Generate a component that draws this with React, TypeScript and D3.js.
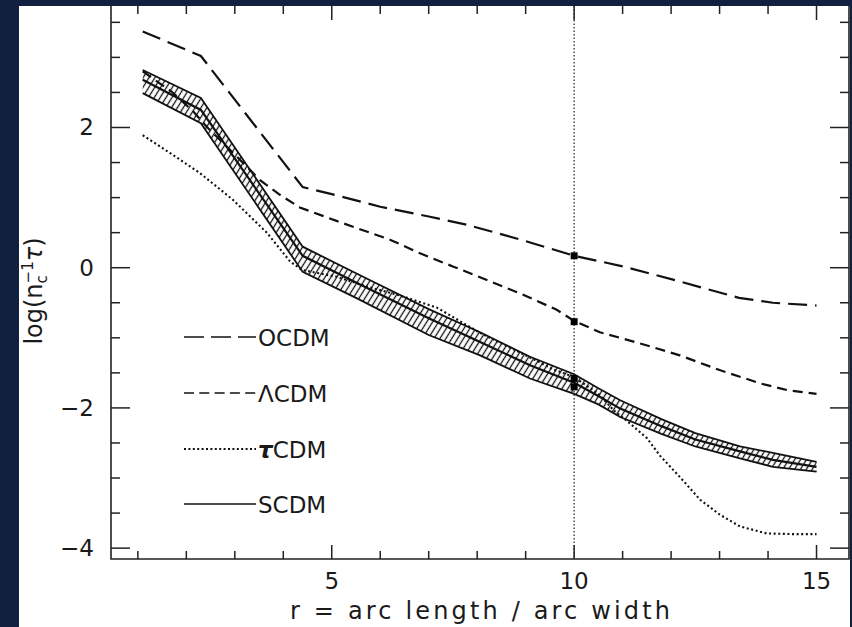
import React from "react";
import * as d3 from "d3";

const W = 852;
const H = 627;

// OCDM (long dash)
const ocdmR = [1.1, 2.3, 4.4, 5.0, 6.0, 7.0, 7.8, 8.9, 10.0, 11.0, 12.2, 13.4, 14.1, 15.0];
const ocdmY = [3.37, 3.02, 1.15, 1.05, 0.87, 0.73, 0.61, 0.40, 0.17, 0.02, -0.20, -0.43, -0.50, -0.54];

// ΛCDM (short dash)
const lcdmR = [1.1, 1.7, 2.14, 2.42, 2.83, 3.25, 3.52, 3.93, 4.34, 5.17, 6.2, 6.82, 7.51, 8.2, 8.88, 9.64, 10.0, 10.53, 11.36, 12.18, 13.0, 13.84, 14.39, 15.0];
const lcdmY = [2.80, 2.51, 2.23, 2.01, 1.73, 1.44, 1.25, 1.04, 0.86, 0.65, 0.40, 0.205, 0.015, -0.175, -0.365, -0.60, -0.76, -0.92, -1.08, -1.25, -1.46, -1.65, -1.745, -1.80];

// τCDM (dotted)
const tcdmR = [1.1, 1.7, 2.28, 2.96, 3.66, 4.14, 4.38, 5.1, 5.79, 6.47, 7.17, 8.06, 9.09, 9.57, 10.0, 10.5, 10.84, 11.15, 11.5, 11.77, 12.2, 12.6, 13.0, 13.42, 13.97, 14.5, 15.0];
const tcdmY = [1.89, 1.62, 1.35, 0.97, 0.50, 0.09, -0.03, -0.13, -0.28, -0.41, -0.57, -0.93, -1.28, -1.45, -1.56, -1.80, -2.05, -2.22, -2.43, -2.68, -3.0, -3.31, -3.52, -3.69, -3.79, -3.80, -3.80];

// SCDM (solid) with hatched band
const scdmR = [1.1, 2.3, 4.4, 5.5, 7.0, 8.06, 9.09, 10.0, 10.5, 10.95, 11.8, 12.5, 13.42, 14.1, 15.0];
const scdmY = [2.68, 2.25, 0.17, -0.21, -0.72, -1.06, -1.39, -1.64, -1.83, -2.01, -2.26, -2.45, -2.62, -2.74, -2.84];
const scdmUpper = [2.82, 2.42, 0.30, -0.08, -0.59, -0.92, -1.27, -1.52, -1.72, -1.89, -2.16, -2.36, -2.55, -2.64, -2.77];
const scdmLower = [2.49, 2.06, -0.06, -0.43, -0.96, -1.25, -1.58, -1.80, -1.95, -2.13, -2.37, -2.55, -2.72, -2.84, -2.91];

// markers at r = 10
const markerR = 10;
const markerY = [0.17, -0.77, -1.58, -1.70];

const xMajor = [5, 10, 15];
const xMinor = d3.range(1, 16);
const yMajor = [-4, -2, 0, 2];
const yMinor = d3.range(-4, 3.6, 0.5);
const yTickLabels = ["−4", "−2", "0", "2"];

const legendNames = ["OCDM", "ΛCDM", "τCDM", "SCDM"];

export default function App() {
  const left = 111, right = 849, top = 6, bottom = 559;
  const x = d3.scaleLinear().domain([0.446, 15.67]).range([left, right]);
  const y = d3.scaleLinear().domain([-4.155, 3.733]).range([bottom, top]);

  const line = (rs: number[], ys: number[]) =>
    d3.line<number>().x((_, i) => x(rs[i])).y((v) => y(v))(ys) as string;

  const bandArea = d3
    .area<number>()
    .x((_, i) => x(scdmR[i]))
    .y0((_, i) => y(scdmLower[i]))
    .y1((_, i) => y(scdmUpper[i]))(scdmR) as string;

  const font = "'DejaVu Sans', sans-serif";
  const ink = "#1a1a1a";

  const legendY = [337, 393, 449, 504];
  const legendDash = ["20,7", "10,5.3", "2,2.4", ""];
  const lineDash = ["19,8", "10,6", "2,2.6", ""];

  return (
    <svg width={W} height={H} style={{ position: "fixed", left: 0, top: 0 }} xmlns="http://www.w3.org/2000/svg">
      <defs>
        <pattern id="hatch" patternUnits="userSpaceOnUse" width="5" height="10" patternTransform="rotate(32)">
          <line x1="2.5" y1="0" x2="2.5" y2="10" stroke="#111" strokeWidth="1.3" />
        </pattern>
        <clipPath id="plotclip">
          <rect x={left} y={top} width={right - left} height={bottom - top} />
        </clipPath>
      </defs>
      <rect x={0} y={0} width={W} height={H} fill="#12203f" />
      <rect x={19} y={6} width={831} height={H - 6} fill="#ffffff" />

      {/* frame (top edge hidden at the crop) */}
      <path
        d={`M${left},${top}V${bottom}H${right}V${top}`}
        fill="none"
        stroke="#222"
        strokeWidth={1.6}
      />

      {/* ticks */}
      {xMinor.map((t) => {
        const len = xMajor.includes(t) ? 14 : 8;
        return (
          <g key={"xt" + t} stroke="#222" strokeWidth={1.5}>
            <line x1={x(t)} x2={x(t)} y1={bottom} y2={bottom - len} />
            <line x1={x(t)} x2={x(t)} y1={top} y2={top + len} />
          </g>
        );
      })}
      {yMinor.map((t) => {
        const major = yMajor.some((m) => Math.abs(m - t) < 1e-6);
        const len = major ? 19 : 9;
        return (
          <g key={"yt" + t} stroke="#222" strokeWidth={1.5}>
            <line x1={left} x2={left + len} y1={y(t)} y2={y(t)} />
            <line x1={right} x2={right - len} y1={y(t)} y2={y(t)} />
          </g>
        );
      })}

      {/* tick labels */}
      {xMajor.map((t) => (
        <text key={"xl" + t} x={x(t)} y={589} textAnchor="middle" fontFamily={font} fontSize={23} fill={ink}>
          {t}
        </text>
      ))}
      {yMajor.map((t, i) => (
        <text key={"yl" + t} x={94} y={y(t) + 8} textAnchor="end" fontFamily={font} fontSize={23} fill={ink}>
          {yTickLabels[i]}
        </text>
      ))}

      {/* axis titles */}
      <text x={290} y={619} fontFamily={font} fontSize={24} fill={ink} textLength={380} lengthAdjust="spacing">
        r = arc length / arc width
      </text>
      <text transform="translate(42,291) rotate(-90)" textAnchor="middle" fontFamily={font} fontSize={24} fill={ink}>
        log(n
        <tspan fontSize={15} dy={5}>c</tspan>
        <tspan fontSize={15} dx={-8.2} dy={-14}>−1</tspan>
        <tspan dy={9} fontStyle="italic">τ</tspan>)
      </text>

      <g clipPath="url(#plotclip)">
        {/* vertical dotted line */}
        <line x1={x(10)} x2={x(10)} y1={top} y2={bottom} stroke="#222" strokeWidth={1.2} strokeDasharray="1.5,2" />

        {/* SCDM band */}
        <path d={bandArea} fill="url(#hatch)" stroke="none" />
        <path d={line(scdmR, scdmUpper)} fill="none" stroke="#111" strokeWidth={1.8} />
        <path d={line(scdmR, scdmLower)} fill="none" stroke="#111" strokeWidth={1.8} />
        <path d={line(scdmR, scdmY)} fill="none" stroke="#111" strokeWidth={2.2} />

        {/* τCDM */}
        <path d={line(tcdmR, tcdmY)} fill="none" stroke="#111" strokeWidth={2.1} strokeDasharray={lineDash[2]} />
        {/* ΛCDM */}
        <path d={line(lcdmR, lcdmY)} fill="none" stroke="#111" strokeWidth={2.2} strokeDasharray={lineDash[1]} />
        {/* OCDM */}
        <path d={line(ocdmR, ocdmY)} fill="none" stroke="#111" strokeWidth={2.2} strokeDasharray={lineDash[0]} />

        {/* markers */}
        {markerY.map((v, i) => (
          <rect key={"m" + i} x={x(markerR) - 3.5} y={y(v) - 3.5} width={7} height={7} fill="#000" />
        ))}
      </g>

      {/* legend */}
      {legendNames.map((name, i) => (
        <g key={name}>
          <line
            x1={184}
            x2={256}
            y1={legendY[i]}
            y2={legendY[i]}
            stroke="#111"
            strokeWidth={i === 2 ? 1.8 : 1.6}
            strokeDasharray={legendDash[i] || undefined}
          />
          <text x={258} y={legendY[i] + 8.5} fontFamily={font} fontSize={23} fill={ink}>
            {i === 2 ? (
              <>
                <tspan fontStyle="italic" fontWeight="bold">τ</tspan>CDM
              </>
            ) : (
              name
            )}
          </text>
        </g>
      ))}
    </svg>
  );
}
